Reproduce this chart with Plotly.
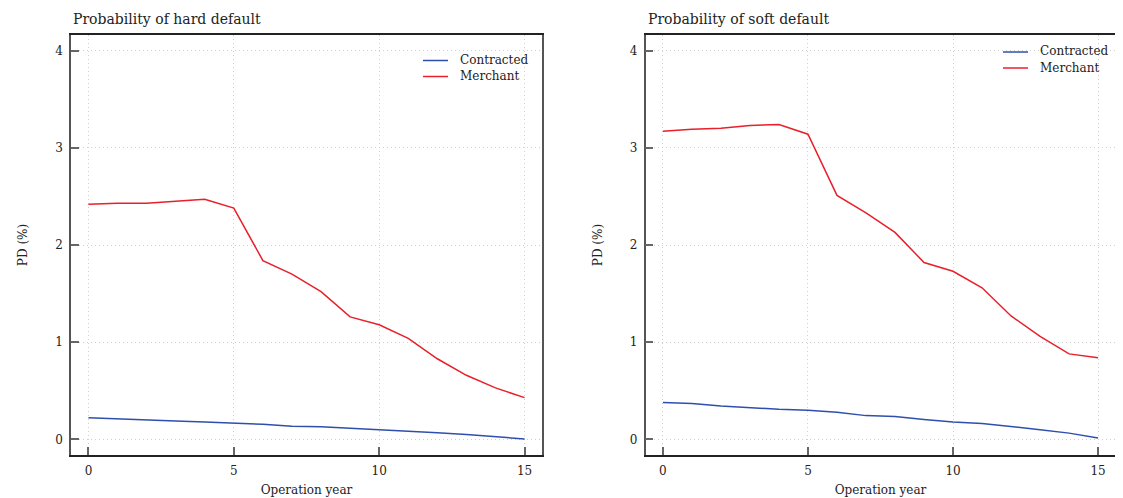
import plotly.graph_objects as go

years = list(range(16))
hard_contracted = [0.224, 0.215, 0.20, 0.19, 0.18, 0.17, 0.155, 0.135, 0.13, 0.115, 0.10, 0.09, 0.07, 0.05, 0.03, 0.005]
hard_merchant = [2.42, 2.43, 2.43, 2.45, 2.47, 2.38, 1.84, 1.70, 1.52, 1.26, 1.18, 1.04, 0.83, 0.66, 0.53, 0.43]
soft_contracted = [0.38, 0.37, 0.345, 0.325, 0.31, 0.30, 0.28, 0.245, 0.235, 0.205, 0.18, 0.165, 0.135, 0.10, 0.065, 0.015]
soft_merchant = [3.17, 3.19, 3.20, 3.23, 3.24, 3.14, 2.51, 2.33, 2.13, 1.82, 1.73, 1.56, 1.27, 1.06, 0.88, 0.84]
panel_titles = ["Probability of hard default", "Probability of soft default"]
series_names = ["Contracted", "Merchant"]
x_ticks = [0, 5, 10, 15]
y_ticks = [0, 1, 2, 3, 4]

BLUE = "#2f4fad"
RED = "#e8202a"
COLORS = [BLUE, RED]
FONT = "DejaVu Serif"

OFF = 8  # page body margin
W, H = 1123 - OFF, 498 - OFF


def px(x):
    return (x - OFF) / W


def py(y):
    return 1 - (y - OFF) / H


fig = go.Figure()

panels = [(hard_contracted, hard_merchant), (soft_contracted, soft_merchant)]
xdoms = [(px(71), px(542)), (px(645.5), px(1115.5))]
ydom = (py(455), py(35))

for i, series in enumerate(panels):
    xa = "x" if i == 0 else "x2"
    ya = "y" if i == 0 else "y2"
    for name, vals, col in zip(series_names, series, COLORS):
        fig.add_trace(go.Scatter(x=years, y=vals, mode="lines", name=name,
                                 line=dict(color=col, width=1.5), xaxis=xa, yaxis=ya,
                                 showlegend=False))

axis_common = dict(
    showline=True, mirror=True, linewidth=1.5,
    ticks="inside", ticklen=8, tickwidth=1.5, tickcolor="#666",
    showgrid=True, gridcolor="#cfcfcf", griddash="1px,3px", gridwidth=1,
    zeroline=False, automargin=False,
    tickfont=dict(family=FONT, size=12, color="#222"),
)

for i in range(2):
    sfx = "" if i == 0 else "2"
    fig.layout["xaxis" + sfx] = dict(
        axis_common, domain=xdoms[i], range=[-0.6, 15.6], tickvals=x_ticks,
        anchor="y" + sfx, ticklabelstandoff=4, linecolor="#222",
        title=dict(text="Operation year", font=dict(family=FONT, size=12, color="#222"), standoff=8),
    )
    fig.layout["yaxis" + sfx] = dict(
        axis_common, domain=ydom, range=[-0.16, 4.16], tickvals=y_ticks,
        anchor="x" + sfx, ticklabelstandoff=4, linecolor="#555",
        title=dict(text="PD (%)", font=dict(family=FONT, size=12, color="#222"), standoff=25),
    )
    fig.add_annotation(text=panel_titles[i], x=xdoms[i][0], y=py(19),
                       xref="paper", yref="paper", xanchor="left", yanchor="middle",
                       showarrow=False, font=dict(family=FONT, size=14, color="#222"))

# legend (drawn inside each panel, top-right)
legend_pos = [  # (line x0, line x1, text x, first row y) in reference pixels
    (423, 448, 458, 60.5),
    (1003, 1028, 1038, 52),
]
ROW = 16
for (lx0, lx1, tx, y0) in legend_pos:
    for k, (name, col) in enumerate(zip(series_names, COLORS)):
        yy = y0 + k * ROW
        fig.add_shape(type="line", xref="paper", yref="paper",
                      x0=px(lx0), x1=px(lx1), y0=py(yy), y1=py(yy),
                      line=dict(color=col, width=1.5))
        fig.add_annotation(text=name, x=px(tx), y=py(yy - 0.5), xref="paper", yref="paper",
                           xanchor="left", yanchor="middle", showarrow=False,
                           font=dict(family=FONT, size=12, color="#222"))

fig.update_layout(
    width=W, height=H, margin=dict(l=0, r=0, t=0, b=0),
    paper_bgcolor="white", plot_bgcolor="white", showlegend=False,
)

fig.write_html("out.html")
